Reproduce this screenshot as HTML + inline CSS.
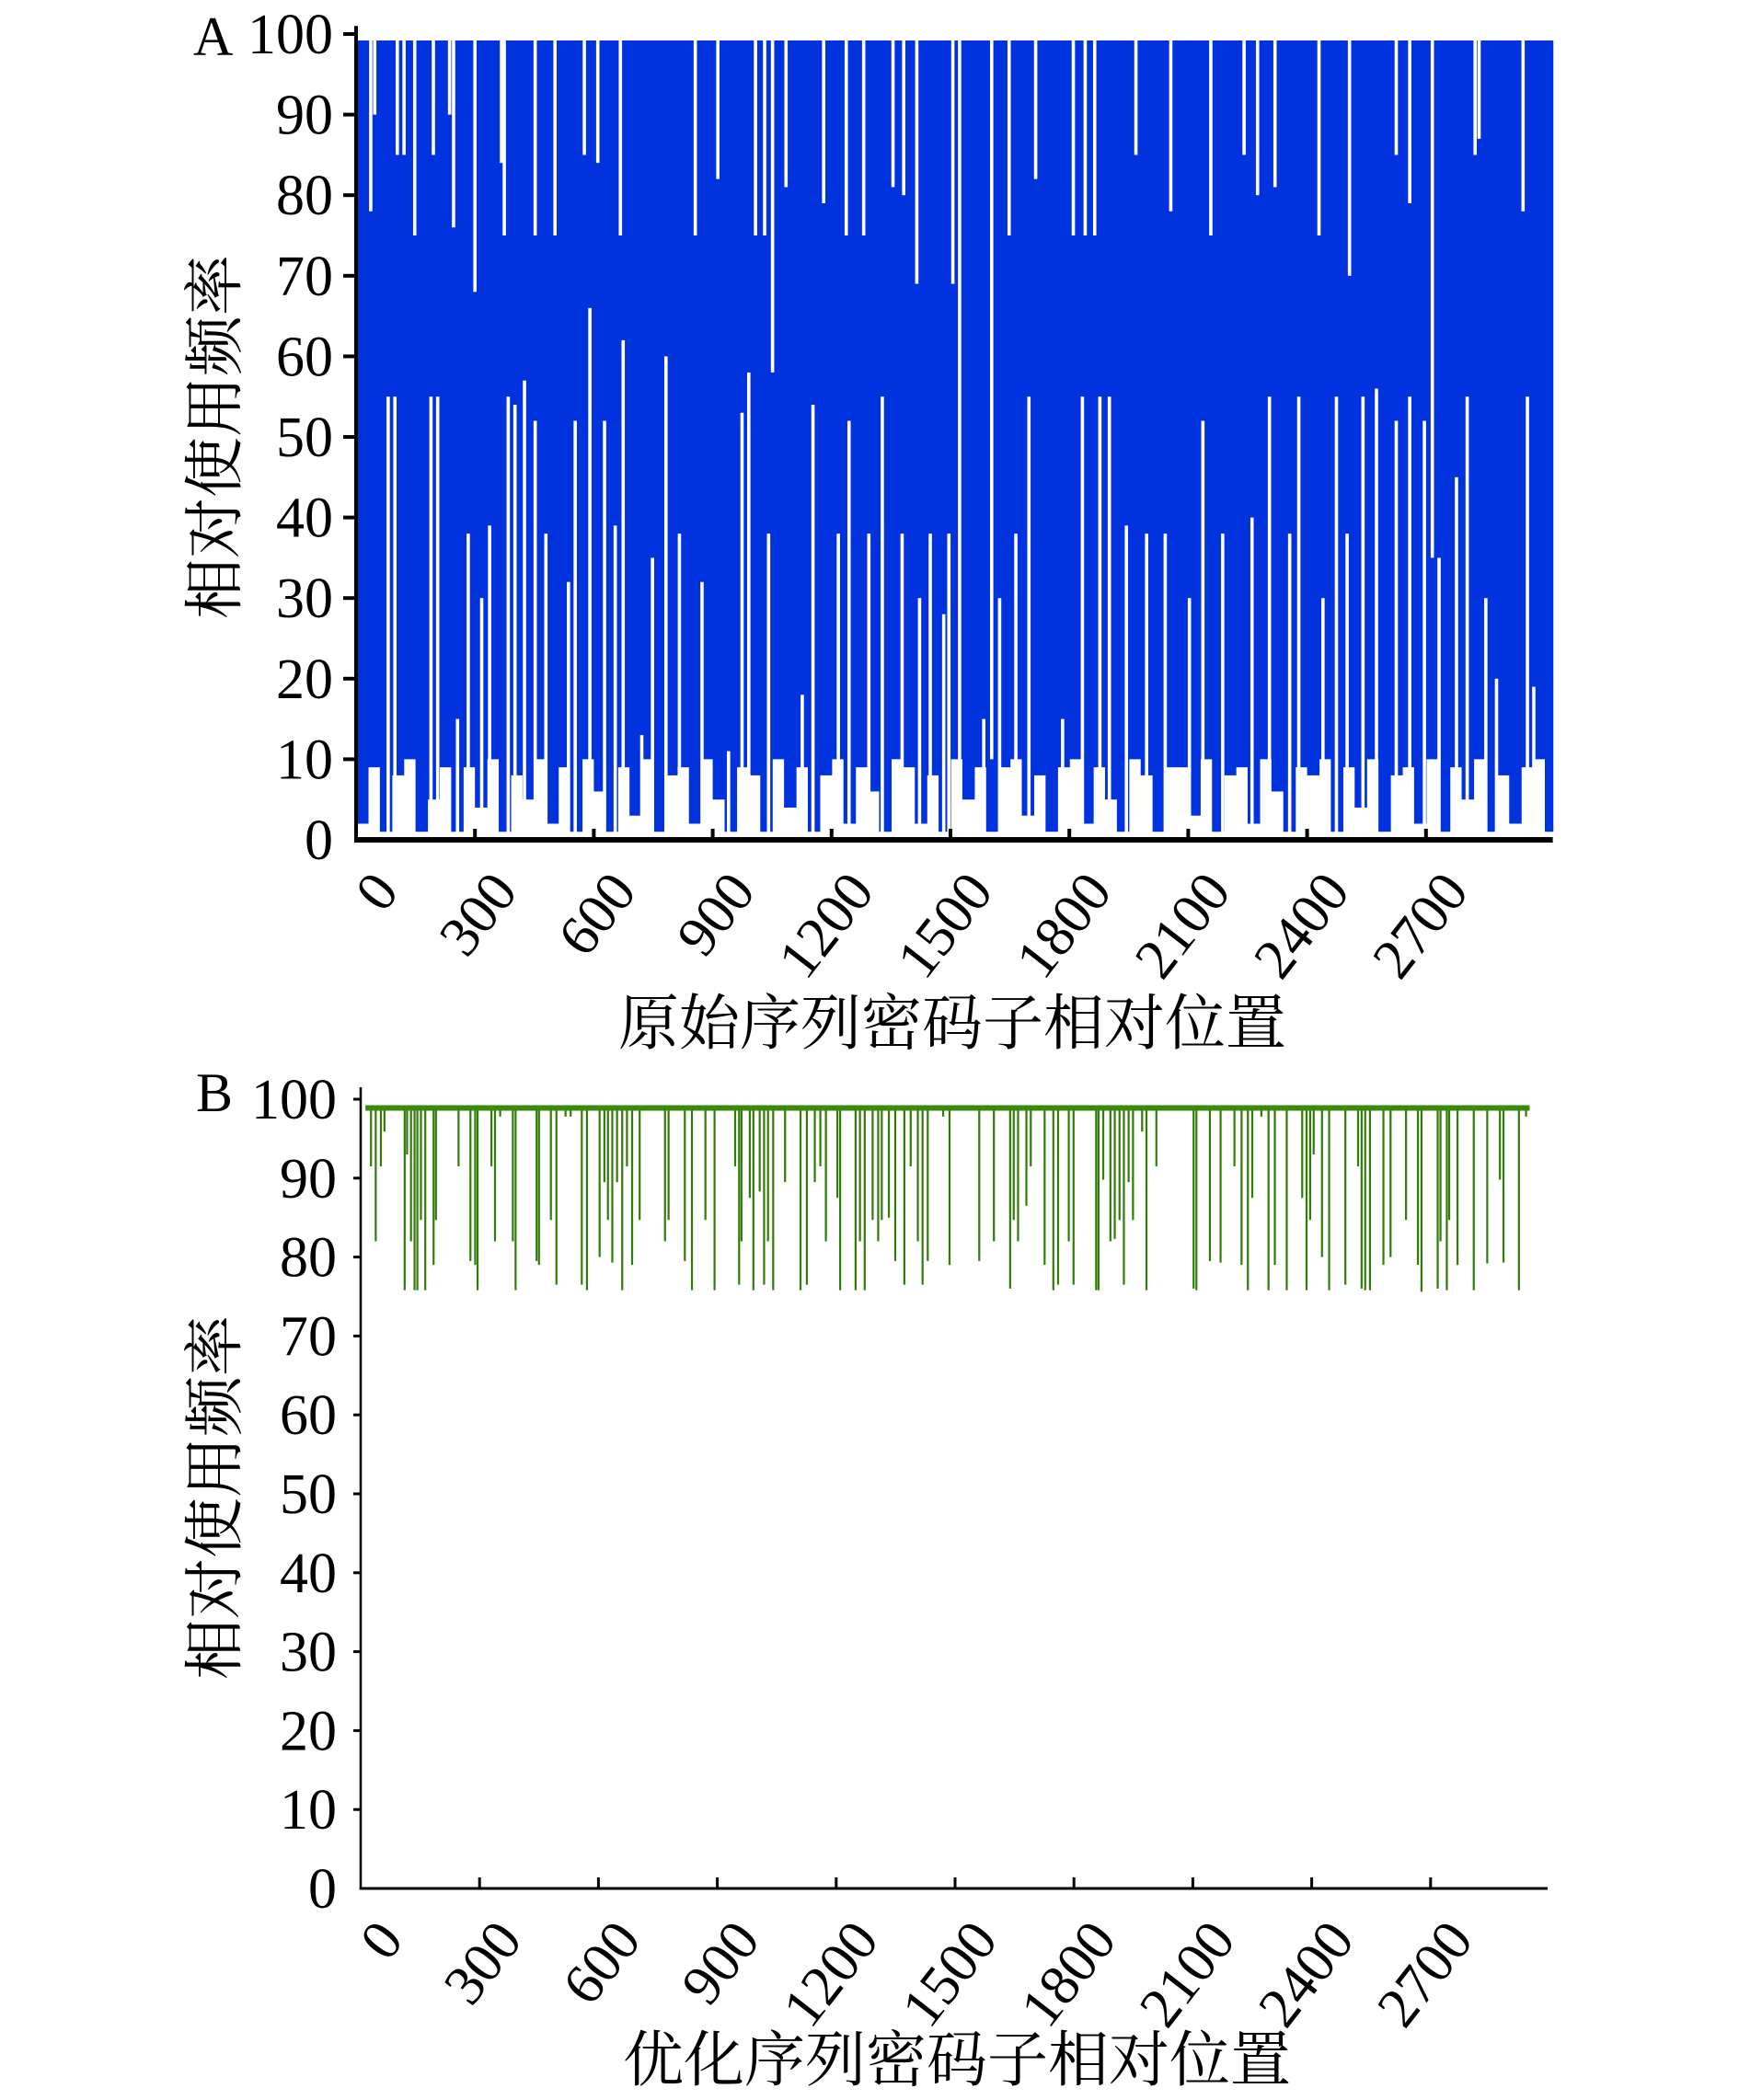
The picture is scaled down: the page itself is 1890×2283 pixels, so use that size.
<!DOCTYPE html>
<html><head><meta charset="utf-8">
<style>
html,body{margin:0;padding:0;background:#fff;}
svg{display:block;}
text{font-family:"Liberation Serif","Noto Serif CJK SC",serif;fill:#000;}
.cjk{font-family:"Liberation Serif","Noto Serif CJK SC","Noto Sans CJK SC",serif;}
</style></head>
<body>
<svg id="fig" width="1890" height="2283" viewBox="0 0 1890 2283" xmlns="http://www.w3.org/2000/svg">
<g id="chartA"></g>
<g id="chartB"></g>
</svg>
<script>
// ---------- data ----------
const xTicks = [0,300,600,900,1200,1500,1800,2100,2400,2700];
const yTicks = [0,10,20,30,40,50,60,70,80,90,100];
const codonCount = 3020;
// Chart A: top level of blue band, narrow white gaps from the top (position, value)
const aTopLevel = 99.2;
const aGapPos = [37,47,104,121,148,195,236,246,300,367,374,452,502,576,610,667,856,913,1008,1031,1051,1085,1180,1237,1281,1355,1382,1415,1506,1523,1604,1648,1715,1810,1840,1864,1968,2056,2157,2241,2275,2319,2430,2507,2625,2659,2716,2824,2834,2945];
const aGapVal = [78,90,85,85,75,85,90,76,68,84,75,75,75,85,84,75,75,82,75,75,58,81,79,75,75,81,80,69,69,10,10,75,82,75,75,75,85,78,75,85,80,81,75,70,85,79,35,85,87,78];
// Chart A: narrow white gaps from the bottom (position, value)
const aLowPos = [81,98,189,206,256,283,317,337,384,401,425,452,479,536,553,590,627,654,674,721,748,782,816,873,940,974,991,1041,1126,1153,1217,1244,1294,1328,1378,1422,1449,1483,1496,1584,1624,1665,1698,1783,1833,1877,1901,1944,1995,2042,2103,2137,2187,2261,2305,2356,2379,2440,2474,2501,2541,2575,2625,2659,2696,2733,2777,2804,2851,2878,2956,2972];
const aLowVal = [55,55,55,55,15,38,30,39,55,54,57,52,38,32,52,66,52,39,62,13,35,60,38,32,11,53,58,38,18,54,38,52,38,55,38,30,38,28,38,15,30,38,55,15,55,55,55,39,38,38,30,52,38,40,55,38,55,30,55,38,55,56,52,55,52,35,45,55,30,20,55,19];
// Chart A: bottom of blue per 30-codon bin
const aBinLow = [2,9,1,8,10,1,5,9,1,9,4,10,1,8,5,10,2,9,1,10,6,1,9,3,10,1,8,9,2,10,5,1,9,8,1,10,4,9,1,8,10,2,9,6,1,10,9,2,8,1,10,5,9,1,9,10,3,8,1,9,10,2,9,5,1,10,8,1,9,9,3,10,1,8,9,2,10,6,1,9,8,10,1,9,4,10,1,8,9,2,10,1,9,5,10,1,8,2,9,10,1];
// Chart B
const bLevel = 98.9;
const bDipPos = [26,38,51,60,111,117,127,136,143,152,163,184,190,247,277,289,295,330,339,352,384,391,444,450,480,494,517,530,558,571,603,615,624,635,647,660,672,685,704,768,777,818,836,870,893,945,955,961,982,991,1007,1018,1028,1041,1071,1110,1126,1146,1160,1174,1203,1210,1249,1260,1272,1292,1306,1315,1333,1349,1372,1388,1406,1418,1431,1470,1486,1561,1598,1639,1648,1659,1680,1691,1726,1748,1760,1787,1799,1856,1862,1874,1892,1903,1915,1926,1938,1949,1972,1983,2008,2102,2109,2143,2170,2205,2223,2239,2250,2273,2291,2307,2337,2376,2387,2396,2405,2426,2444,2485,2517,2526,2535,2547,2581,2599,2638,2668,2677,2718,2725,2741,2747,2768,2809,2843,2875,2884,2923,2941];
const bDipVal = [91.5,82,91.5,95.9,75.8,93,82,75.8,75.8,84.7,75.8,79,84.7,91.5,79.5,79,75.8,91.5,82,97.8,82,75.8,79.5,79,84.7,76.5,97.8,97.8,76.5,75.8,80,89.5,84.7,79.3,89.5,75.8,91.5,79,84.7,82,84.7,79.5,75.8,84.7,75.8,91.5,76.5,82,87.5,75.8,88.3,76.5,82,75.8,89.5,75.8,76.5,89.5,91.5,82,87.5,75.8,75.8,82,75.8,84.7,82,84.7,85,79.5,76.5,91.5,82,76.5,79.5,97.8,79,79.5,82,76,84.7,82,86.5,91.5,79,75.8,76.5,82,76.5,75.8,75.8,89.8,82,82.3,84.7,76.5,89.5,84.7,95.9,75.8,91.5,76,75.8,79.5,79.3,91.5,79,75.8,87.5,97.8,75.8,79,75.8,87.5,75.8,84.7,93,80,75.8,76.5,91.5,76,75.8,75.8,79,80,84.7,79,75.6,76,82,75.8,84.7,79,75.8,79.2,89.8,79.3,75.8,97.8];

// ---------- drawing ----------
const NS = "http://www.w3.org/2000/svg";
function mk(tag, attrs, parent){
  const e = document.createElementNS(NS, tag);
  for (const k in attrs) e.setAttribute(k, attrs[k]);
  parent.appendChild(e); return e;
}
function axisFns(x0, pxPer300, y0, pxPer10){
  return {
    x: c => x0 + c * pxPer300 / 300,
    y: v => y0 - v * pxPer10 / 10
  };
}

function drawAxes(g, A, opt){
  // y axis
  let e = mk('line',{x1:opt.x0,y1:A.y(opt.yTop),x2:opt.x0,y2:opt.y0+opt.axW/2,stroke:'#000','stroke-width':opt.yW},g);
  
  
  // x axis
  e = mk('line',{x1:opt.x0-opt.yW/2,y1:opt.y0,x2:opt.xEnd,y2:opt.y0,stroke:'#000','stroke-width':opt.axW},g);
  
  
  yTicks.forEach(v=>{
    const yy = A.y(v);
    if (v>0){
      const t = mk('line',{x1:opt.x0-opt.tickL,y1:yy,x2:opt.x0,y2:yy,stroke:'#000','stroke-width':opt.tickW},g);
      
      
    }
    const lb = mk('text',{x:opt.labelX,y:yy+21,'text-anchor':'end','font-size':62},g);
    lb.textContent = v;
    
    
  });
  xTicks.forEach(c=>{
    const xx = A.x(c);
    if (c>0){
      const t = mk('line',{x1:xx,y1:opt.y0,x2:xx,y2:opt.y0-opt.xTickL,stroke:'#000','stroke-width':opt.tickW},g);
      
      
    }
    const tx = xx + 14, ty = opt.y0 + 30;
    const lb = mk('text',{x:tx,y:ty,'text-anchor':'end','font-size':62,transform:`rotate(-52 ${tx} ${ty})`,dy:'0.7em'},g);
    lb.textContent = c;
    
    
  });
  let t = mk('text',{x:233,y:opt.yTitleY,'text-anchor':'middle','font-size':66,'class':'cjk',transform:`rotate(-90 233 ${opt.yTitleY})`,dy:'0.35em'},g);
  t.textContent = '相对使用频率';
  
  
  t = mk('text',{x:opt.xTitleX,y:opt.xTitleY,'text-anchor':'middle','font-size':66,'class':'cjk',dy:'0.35em'},g);
  t.textContent = opt.xTitle;
  
  
  t = mk('text',{x:opt.panelX,y:opt.panelY,'font-size':60},g);
  t.textContent = opt.panel;
  
  
}

// Chart A
(function(){
  const g = document.getElementById('chartA');
  const A = axisFns(387, 129.2, 913, 87.6);
  const endX = A.x(codonCount);
  // blue bins
  const binW = 30;
  aBinLow.forEach((lo,i)=>{
    const c0 = i*binW, c1 = Math.min(codonCount,(i+1)*binW);
    if (c0>=codonCount) return;
    const r = mk('rect',{x:A.x(c0),y:A.y(aTopLevel),width:A.x(c1)-A.x(c0)+0.6,height:A.y(lo)-A.y(aTopLevel),fill:'#0033dd'},g);
    
    
  });
  aGapPos.forEach((c,i)=>{
    const r = mk('rect',{x:A.x(c)-1.8,y:A.y(aTopLevel)-1,width:3.6,height:A.y(aGapVal[i])-A.y(aTopLevel)+1,fill:'#fff'},g);
    
    
  });
  aLowPos.forEach((c,i)=>{
    const r = mk('rect',{x:A.x(c)-1.8,y:A.y(aLowVal[i]),width:3.6,height:A.y(0)-A.y(aLowVal[i]),fill:'#fff'},g);
    
    
  });
  drawAxes(g, A, {x0:387, y0:913, xEnd:endX, yTop:101, axW:6, yW:4, tickL:14, xTickL:12, tickW:4, labelX:362,
    yTitleY:475, xTitleX:1035, xTitleY:1112, xTitle:'原始序列密码子相对位置', panel:'A', panelX:210, panelY:60});
})();

// Chart B
(function(){
  const g = document.getElementById('chartB');
  const A = axisFns(392, 129.2, 2053, 85.8);
  bDipPos.forEach((c,i)=>{
    const l = mk('line',{x1:A.x(c),y1:A.y(bLevel),x2:A.x(c),y2:A.y(bDipVal[i]),stroke:'#2f7d06','stroke-width':2.2},g);
    
    
  });
  const ln = mk('line',{x1:A.x(12),y1:A.y(bLevel),x2:A.x(2950),y2:A.y(bLevel),stroke:'#3a8a0a','stroke-width':6},g);
  
  
  drawAxes(g, A, {x0:392, y0:2053, xEnd:1682, yTop:101.5, axW:3, yW:2.5, tickL:8, xTickL:12, tickW:3, labelX:366,
    yTitleY:1628, xTitleX:1040, xTitleY:2239, xTitle:'优化序列密码子相对位置', panel:'B', panelX:213, panelY:1208});
})();
</script>
</body></html>
